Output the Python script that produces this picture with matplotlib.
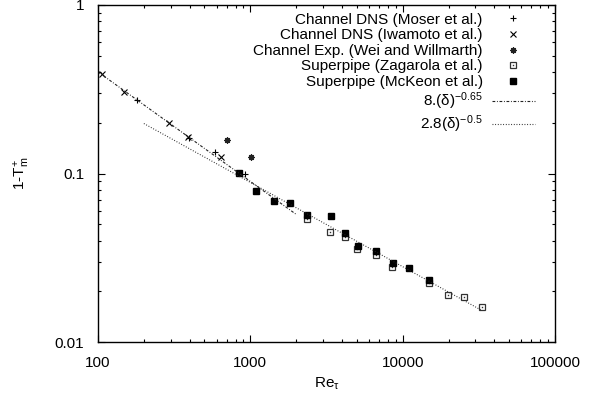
import matplotlib
matplotlib.use("Agg")
import numpy as np
import matplotlib.pyplot as plt
from matplotlib.ticker import FixedLocator, FixedFormatter, LogLocator, NullFormatter
from matplotlib.legend_handler import HandlerTuple

plt.rcParams['font.family'] = ['Liberation Sans', 'DejaVu Sans']
plt.rcParams['mathtext.fontset'] = 'custom'
plt.rcParams['mathtext.rm'] = 'Liberation Sans'
plt.rcParams['mathtext.it'] = 'Liberation Sans'

# data
moser_re = [180, 395, 590, 925]
moser_t = [0.273, 0.163, 0.135, 0.100]

iwamoto_re = [107, 149, 294, 392, 640]
iwamoto_t = [0.388, 0.306, 0.199, 0.165, 0.125]

wei_re = [700, 1010]
wei_t = [0.158, 0.125]

zagarola_re = [2345, 3340, 4180, 5050, 6650, 8500, 14900, 19700, 25300, 33000]
zagarola_t = [0.0535, 0.0448, 0.0418, 0.0356, 0.0328, 0.0280, 0.0223, 0.0190, 0.0185, 0.0162]

mckeon_re = [847, 1089, 1439, 1824, 2345, 3390, 4190, 5070, 6680, 8610, 11010, 14960]
mckeon_t = [0.1003, 0.0787, 0.0687, 0.0666, 0.0567, 0.0562, 0.0445, 0.0373, 0.0347, 0.0296, 0.0275, 0.0233]

# power-law fits: coefficient, exponent, Re range
fit1_c, fit1_p, fit1_range = 8.0, -0.65, [100, 2000]
fit2_c, fit2_p, fit2_range = 2.8, -0.5, [200, 33000]

fig = plt.figure(figsize=(6.01, 3.96), dpi=100)
ax = fig.add_axes([98 / 601, 1 - 342 / 396, 457 / 601, 337 / 396])

r1 = np.array(fit1_range, dtype=float)
r2 = np.array(fit2_range, dtype=float)

h_moser, = ax.plot(moser_re, moser_t, ls='none', marker='+', ms=5, mew=0.8, color='black')
h_iwa, = ax.plot(iwamoto_re, iwamoto_t, ls='none', marker='x', ms=4.2, mew=0.8, color='black')
h_wei, = ax.plot(wei_re, wei_t, ls='none', marker=(8, 2, 0), ms=4.5, mew=0.9, color='#222222')
h_zag, = ax.plot(zagarola_re, zagarola_t, ls='none', marker='s', ms=4.3, mew=0.9,
                 mfc='white', mec='#333333')
h_zagdot, = ax.plot(zagarola_re, zagarola_t, ls='none', marker='s', ms=1.0, mew=0,
                    color='#333333')
h_mck, = ax.plot(mckeon_re, mckeon_t, ls='none', marker='s', ms=4.8, color='black')
h_f1, = ax.plot(r1, fit1_c * r1 ** fit1_p, color='#222222', lw=0.8,
                dashes=[2.5, 1.5, 0.8, 1.5])
h_f2, = ax.plot(r2, fit2_c * r2 ** fit2_p, color='#222222', lw=0.8,
                dashes=[0.8, 1.6])

ax.set_xscale('log')
ax.set_yscale('log')
ax.set_xlim(100, 100000)
ax.set_ylim(0.01, 1)

ax.xaxis.set_major_locator(FixedLocator([100, 1000, 10000, 100000]))
ax.xaxis.set_major_formatter(FixedFormatter(['100', '1000', '10000', '100000']))
ax.yaxis.set_major_locator(FixedLocator([0.01, 0.1, 1]))
ax.yaxis.set_major_formatter(FixedFormatter(['0.01', '0.1', '1']))
for a in (ax.xaxis, ax.yaxis):
    a.set_minor_locator(LogLocator(base=10, subs=np.arange(2, 10)))
    a.set_minor_formatter(NullFormatter())

ax.tick_params(which='both', direction='in', top=True, right=True, labelsize=11, width=0.8)
ax.tick_params(which='major', length=5)
ax.tick_params(which='minor', length=2.5)
ax.tick_params(axis='x', which='major', pad=10)
ax.tick_params(axis='y', which='major', pad=10)
for s in ax.spines.values():
    s.set_linewidth(1.0)

ax.set_xlabel(r'Re$_\tau$', fontsize=11, labelpad=4)
ax.set_ylabel(r'1-T$^{+}_{\mathrm{m}}$', fontsize=11, labelpad=16)

handles = [h_moser, h_iwa, h_wei, (h_zag, h_zagdot), h_mck, h_f1, h_f2]
labels = ['Channel DNS (Moser et al.)', 'Channel DNS (Iwamoto et al.)',
          'Channel Exp. (Wei and Willmarth)', 'Superpipe (Zagarola et al.)',
          'Superpipe (McKeon et al.)', r'8.($\delta$)$^{-0.65}$', r'2.8($\delta$)$^{-0.5}$']
leg = ax.legend(handles, labels, loc='upper right', bbox_to_anchor=(0.969, 0.995),
                markerfirst=False, frameon=False, fontsize=11, labelspacing=0.1,
                handlelength=2.8, handletextpad=0.6, borderaxespad=0.0,
                handler_map={tuple: HandlerTuple(ndivide=1)})
for t in leg.get_texts():
    t.set_ha('right')

fig.savefig('out.png', dpi=100)
